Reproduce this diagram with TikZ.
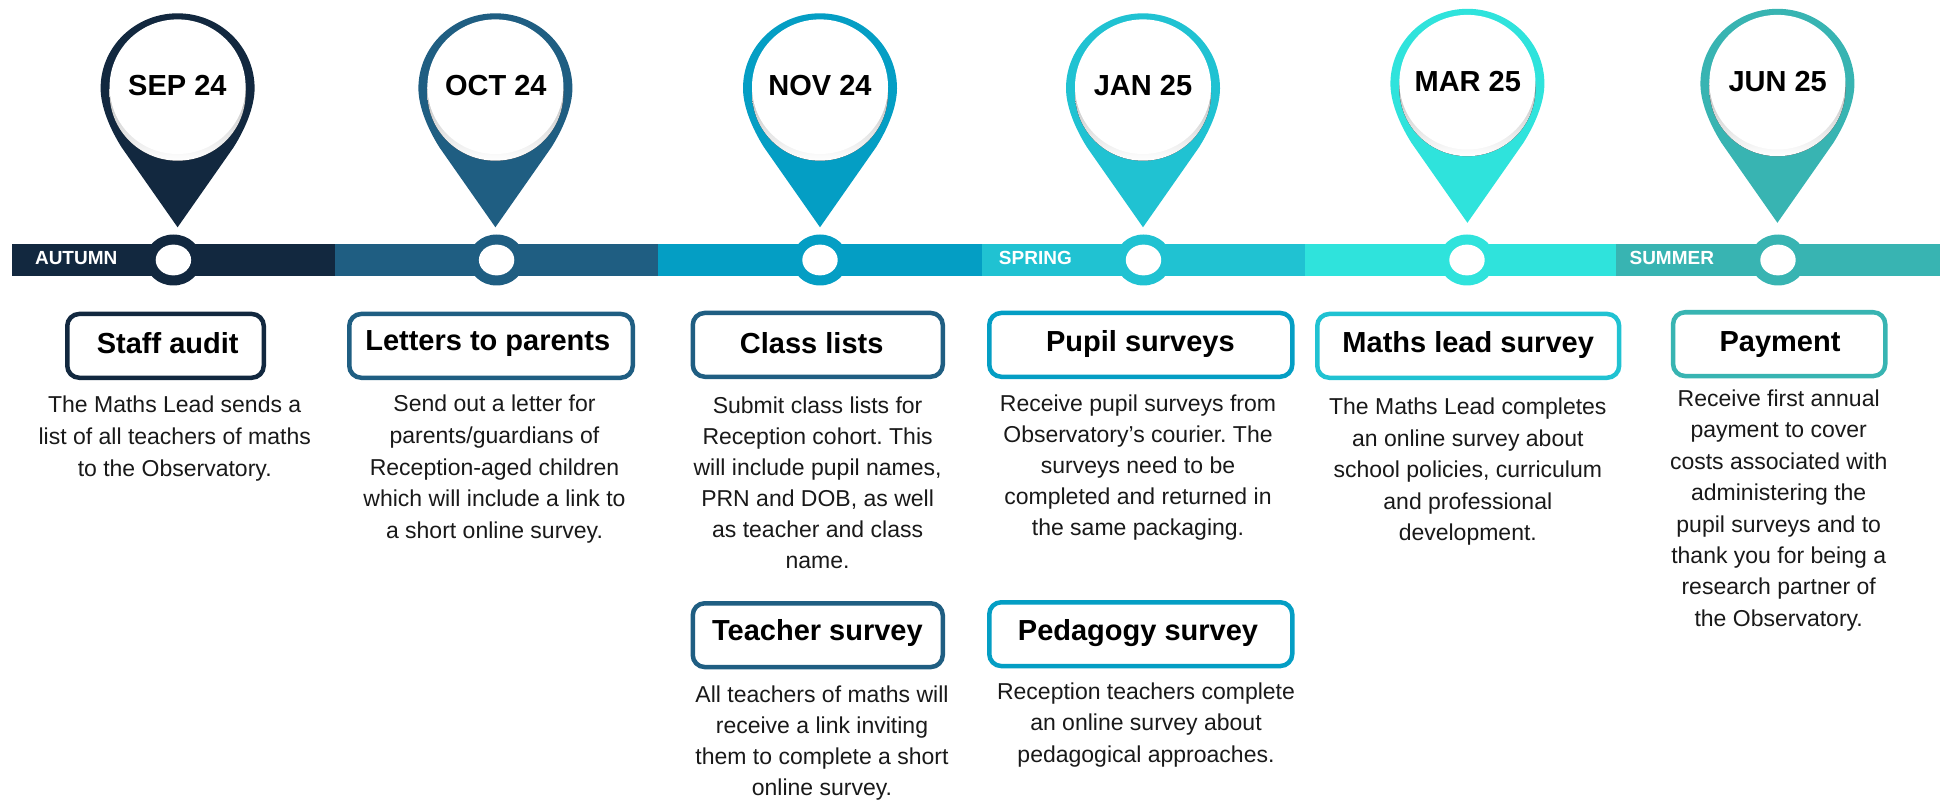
\documentclass[tikz,border=0pt]{standalone}
\usepackage{fontspec}
\setmainfont{Liberation Sans}
\definecolor{cA}{HTML}{12283F}
\definecolor{cB}{HTML}{1F5E82}
\definecolor{cC}{HTML}{049EC4}
\definecolor{cD}{HTML}{20C2D2}
\definecolor{cE}{HTML}{2FE3DC}
\definecolor{cF}{HTML}{38B4B2}
\definecolor{shade}{HTML}{CBCDCE}
\tikzset{
  datelabel/.style={font=\bfseries\fontsize{29}{34}\selectfont,text=black,inner sep=0pt,anchor=base},
  seasonlabel/.style={font=\bfseries\fontsize{19}{22}\selectfont,text=white,inner sep=0pt,anchor=base},
  headlabel/.style={font=\bfseries\fontsize{29}{34}\selectfont,text=black,inner sep=0pt,anchor=base},
  bodytext/.style={font=\fontsize{23}{#1}\selectfont\frenchspacing,text=black!90,inner sep=0pt,align=center,anchor=center},
  titlebox/.style={draw=#1,line width=4.5pt,rounded corners=12pt,fill=white,inner sep=0pt},
}
% \drawpin{colour}{cx}{cy of widest point}
\newcommand{\drawpin}[3]{%
  \begin{scope}[shift={(#2,#3)}]
    \fill[#1] (0,139) -- (-56,59) .. controls (-68,40) and (-77,18) .. (-77,0)
      .. controls (-77,-42) and (-42,-75) .. (0,-75)
      .. controls (42,-75) and (77,-42) .. (77,0)
      .. controls (77,18) and (68,40) .. (56,59) -- cycle;
    \fill[shade] (0,5.1) ellipse [x radius=68,y radius=67.3];
    \fill[white] (0,-1.6) ellipse [x radius=68,y radius=67.3];
  \end{scope}}
\newcommand{\drawring}[2]{%
  \fill[#1] (#2,260) ellipse [x radius=28,y radius=25.5];
  \fill[white] (#2,260) ellipse [x radius=17.7,y radius=15.4];}
% \tbox{name}{colour}{x1}{x2}{y1}{y2}
\newcommand{\tbox}[6]{%
  \pgfmathsetmacro{\bw}{#4-#3-4.5}\pgfmathsetmacro{\bh}{#6-#5-4.5}%
  \node[titlebox=#2,minimum width=\bw pt,minimum height=\bh pt] (#1) at ({(#3+#4)/2},{(#5+#6)/2}) {};}
\begin{document}
\begin{tikzpicture}[x=1pt,y=-1pt]
\useasboundingbox (0,0) rectangle (1946,802);
% bar
\fill[cA] (12,243.7) rectangle (335,276.3);
\fill[cB] (335,243.7) rectangle (658,276.3);
\fill[cC] (658,243.7) rectangle (982,276.3);
\fill[cD] (982,243.7) rectangle (1305,276.3);
\fill[cE] (1305,243.7) rectangle (1616.4,276.3);
\fill[cF] (1616.4,243.7) rectangle (1940,276.3);
% rings
\drawring{cA}{173.4}
\drawring{cB}{496.6}
\drawring{cC}{820}
\drawring{cD}{1143.5}
\drawring{cE}{1467}
\drawring{cF}{1778}
% pins
\drawpin{cA}{177.6}{88.3}
\drawpin{cB}{495.4}{88.3}
\drawpin{cC}{820}{88.3}
\drawpin{cD}{1143}{88.3}
\drawpin{cE}{1467.4}{83.8}
\drawpin{cF}{1777.4}{83.8}
% dates
\node[datelabel] (dSep) at (177.4,96) {SEP 24};
\node[datelabel] (dOct) at (495.8,96) {OCT 24};
\node[datelabel] (dNov) at (820,96) {NOV 24};
\node[datelabel] (dJan) at (1143,96) {JAN 25};
\node[datelabel] (dMar) at (1467.8,92) {MAR 25};
\node[datelabel] (dJun) at (1777.7,92) {JUN 25};
% seasons
\node[seasonlabel] (sAut) at (76.2,264.3) {AUTUMN};
\node[seasonlabel] (sSpr) at (1035.4,264.3) {SPRING};
\node[seasonlabel] (sSum) at (1671.8,264.3) {SUMMER};
% boxes
\tbox{bStaff}{cA}{65}{266}{311.7}{380}
\tbox{bLetters}{cB}{347}{635}{311.7}{380}
\tbox{bClass}{cB}{690.5}{945}{310.7}{379}
\tbox{bPupil}{cC}{987}{1294.5}{310.7}{379}
\tbox{bMaths}{cD}{1315}{1621.4}{311.7}{380}
\tbox{bPay}{cF}{1670.8}{1887.5}{310}{378.3}
\tbox{bTeacher}{cB}{690.5}{945}{601}{669.3}
\tbox{bPed}{cC}{987}{1294.5}{600}{668.3}
% headings
\node[headlabel] (hStaff) at (167.7,353) {Staff audit};
\node[headlabel] (hLetters) at (487.8,350.2) {Letters to parents};
\node[headlabel] (hClass) at (811.7,353) {Class lists};
\node[headlabel] (hPupil) at (1140.4,351.2) {Pupil surveys};
\node[headlabel] (hMaths) at (1468.2,352) {Maths lead survey};
\node[headlabel] (hPay) at (1780,351.2) {Payment};
\node[headlabel] (hTeacher) at (817.4,640.5) {Teacher survey};
\node[headlabel] (hPed) at (1138,640.5) {Pedagogy survey};
% body text
\node[bodytext=32] (tStaff) at (174.7,438.8) {The Maths Lead sends a\\list of all teachers of maths\\to the Observatory.};
\node[bodytext=31.8] (tLetters) at (494.5,469.2) {Send out a letter for\\parents/guardians of\\Reception-aged children\\which will include a link to\\a short online survey.};
\node[bodytext=31] (tClass) at (817.6,482.5) {Submit class lists for\\Reception cohort. This\\will include pupil names,\\PRN and DOB, as well\\as teacher and class\\name.};
\node[bodytext=30.8] (tPupil) at (1138,467.5) {Receive pupil surveys from\\Observatory’s courier. The\\surveys need to be\\completed and returned in\\the same packaging.};
\node[bodytext=31.5] (tMaths) at (1467.8,472) {The Maths Lead completes\\an online survey about\\school policies, curriculum\\and professional\\development.};
\node[bodytext=31.4] (tPay) at (1778.7,510.5) {Receive first annual\\payment to cover\\costs associated with\\administering the\\pupil surveys and to\\thank you for being a\\research partner of\\the Observatory.};
\node[bodytext=31.3] (tTeacher) at (822,743) {All teachers of maths will\\receive a link inviting\\them to complete a short\\online survey.};
\node[bodytext=31.7] (tPed) at (1146,725) {Reception teachers complete\\an online survey about\\pedagogical approaches.};
\end{tikzpicture}
\end{document}
